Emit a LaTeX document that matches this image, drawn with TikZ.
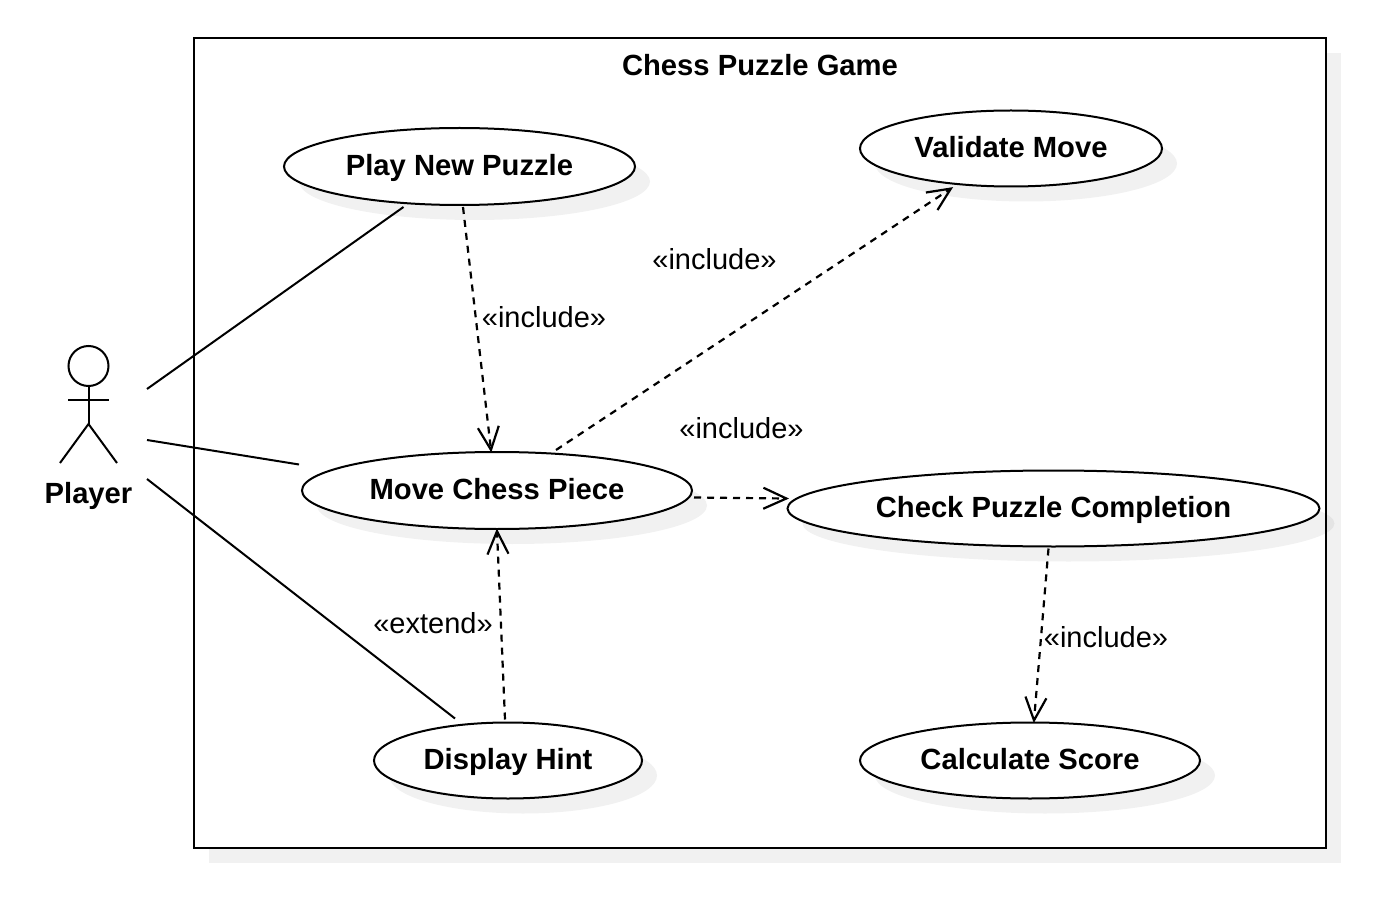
\documentclass[tikz,border=0pt]{standalone}
\usepackage{fontspec}
\setmainfont{Liberation Sans}
\usepackage{xcolor}
\usetikzlibrary{arrows.meta, positioning, calc, shapes.geometric, shadows}
\definecolor{darktext}{HTML}{000000}
\tikzset{
  softshadow/.style={general shadow={shadow xshift=15pt, shadow yshift=-15pt, fill=black, draw=none, opacity=0.055}},
  usecase/.style={ellipse, draw=darktext, line width=2pt, fill=white, softshadow, inner sep=0pt, text height=24pt, text depth=6pt, font=\fontsize{29.2}{33}\selectfont\bfseries},
  relabel/.style={font=\fontsize{29}{33}\selectfont, text=darktext},
  assoc/.style={line width=2pt, draw=darktext},
  depend/.style={line width=2.2pt, draw=darktext, shorten >=-2.5pt, dash pattern=on 7pt off 6pt, -{Straight Barb[length=23pt, width=21pt, line width=2.2pt]}}
}
\begin{document}
\begin{tikzpicture}[x=1pt, y=-1pt]
  \useasboundingbox (0,0) rectangle (1398,901);
  \node[draw=darktext, line width=2pt, fill=white, softshadow, minimum width=1132pt, minimum height=809.5pt, inner sep=0pt] (system) at (760,443.25) {};
  \node[font=\fontsize{29.2}{33}\selectfont\bfseries] (title) at (760,65) {Chess Puzzle Game};

  \node[usecase, minimum width=351pt, minimum height=77pt] (play) at (459.5,166.5) {Play New Puzzle};
  \node[usecase, minimum width=302pt, minimum height=76pt] (validate) at (1011,148.5) {Validate Move};
  \node[usecase, minimum width=390pt, minimum height=77pt] (move) at (497,490.5) {Move Chess Piece};
  \node[usecase, minimum width=532pt, minimum height=76pt] (check) at (1053.5,508.5) {Check Puzzle Completion};
  \node[usecase, minimum width=268pt, minimum height=76pt] (hint) at (508,760.5) {Display Hint};
  \node[usecase, minimum width=340pt, minimum height=76pt] (score) at (1030,760.5) {Calculate Score};

  \node[circle, draw=darktext, line width=2pt, minimum size=40pt, inner sep=0pt] (head) at (88.5,366) {};
  \coordinate (hip) at (88.5,424);
  \coordinate (armL) at (68,400);
  \coordinate (armR) at (109,400);
  \coordinate (footL) at (60,463);
  \coordinate (footR) at (117,463);
  \draw[assoc] (head.south) -- (hip);
  \draw[assoc] (armL) -- (armR);
  \draw[assoc] (footL) -- (hip) -- (footR);
  \node[font=\fontsize{29.2}{33}\selectfont\bfseries, text height=21pt, text depth=6pt] (player) at (88.5,495.5) {Player};

  \coordinate (actorA) at (147,389);
  \coordinate (actorB) at (147,440);
  \coordinate (actorC) at (147,479);
  \draw[assoc] (actorA) -- ($(play.south)+(-56,1)$);
  \draw[assoc] (actorB) -- ($(move.west)+(-2,-26)$);
  \draw[assoc] (actorC) -- ($(hint.north)+(-53,-3)$);

  \draw[depend] ($(play.south)+(3.5,1)$) -- ($(move.north)+(-6,-1)$);
  \draw[depend] ($(move.north)+(59,-1)$) -- ($(validate.south)+(-60,1)$);
  \draw[depend] ($(move.east)+(1,7)$) -- ($(check.west)+(0,-10)$);
  \draw[depend] ($(check.south)+(-5,1)$) -- ($(score.north)+(4,-1)$);
  \draw[depend] ($(hint.north)+(-3,-2)$) -- ($(move.south)+(0,1)$);

  \node[relabel] (incA) at (544,317) {«include»};
  \node[relabel] (incB) at (714.5,259) {«include»};
  \node[relabel] (incC) at (741.5,428) {«include»};
  \node[relabel] (incD) at (1106,637) {«include»};
  \node[relabel] (ext) at (433,623) {«extend»};
\end{tikzpicture}
\end{document}
